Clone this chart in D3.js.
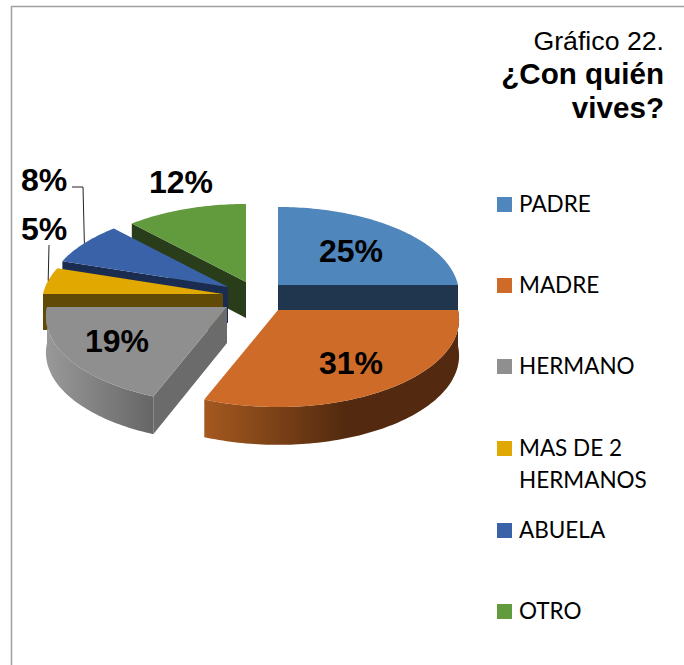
<!DOCTYPE html>
<html>
<head>
<meta charset="utf-8">
<script src="https://cdn.jsdelivr.net/npm/d3@7/dist/d3.min.js"></script>
<style>
html, body { margin: 0; padding: 0; background: #fff; }
svg { display: block; }
</style>
</head>
<body>
<div id="chart"></div>
<script>
// datos del grafico
const categories = ["PADRE", "MADRE", "HERMANO", "MAS DE 2 HERMANOS", "ABUELA", "OTRO"];
const values = [25, 31, 19, 5, 8, 12];
const topColors = ["#4f86bb", "#cf6b28", "#8f8f8f", "#e0a800", "#3a62a8", "#629a3e"];
const cutColors = ["#20364f", "#532a0f", "#6b6b6b", "#604a05", "#1a2c50", "#2a3d1b"];
const rimLight = ["#4f86bb", "#a5591f", "#999999", "#8a6a00", "#26427a", "#3b5a25"];
const rimDark = ["#20364f", "#532a0f", "#666666", "#604a05", "#1a2c50", "#2a3d1b"];
const legendLines = [["PADRE"], ["MADRE"], ["HERMANO"], ["MAS DE 2", "HERMANOS"], ["ABUELA"], ["OTRO"]];
const titleLines = ["Gráfico 22.", "¿Con quién", "vives?"];

const width = 684, height = 665;
const svg = d3.select("#chart").append("svg").attr("width", width).attr("height", height);
const defs = svg.append("defs");

// marco
svg.append("path")
    .attr("d", "M11.5,665V6.5H684")
    .attr("fill", "none")
    .attr("stroke", "#a0a0a0")
    .attr("stroke-width", 1.5);

// ---- geometria de la torta 3D ----
const rx = 180, ry = 86.5, persp = 0.1086, depth = 36;
// vertice de cada porcion ya separada
const apex = [[278, 285], [278, 310], [227, 307], [223, 294], [228, 287], [246, 282]];

const pie = d3.pie().sort(null).startAngle(0).endAngle(2 * Math.PI);
const slices = pie(values);
const color = d3.scaleOrdinal().domain(categories).range(topColors);
const line = d3.line();

function project(i, t, r, z) {
    const X = Math.sin(t) * r, Y = -Math.cos(t) * r;
    const p = 1 / (1 - persp * Y);
    return [
        apex[i][0] + X * rx * p,
        apex[i][1] + Y * ry * p + z * depth * (1 + 0.05 * Y)
    ];
}

function arcPoints(i, a0, a1, z) {
    const n = Math.max(2, Math.ceil((a1 - a0) / 0.02));
    return d3.range(n + 1).map(k => project(i, a0 + (a1 - a0) * k / n, 1, z));
}

// orden de dibujo: de atras hacia adelante
const drawOrder = [5, 4, 3, 0, 2, 1];
const g = svg.append("g");

drawOrder.forEach(i => {
    const s = slices[i];
    const a0 = s.startAngle, a1 = s.endAngle;
    const sg = g.append("g").attr("class", "slice");

    // paredes de corte
    [[a0, -Math.sin(a0)], [a1, Math.sin(a1)]].forEach(([a, facing]) => {
        if (facing > 0.01) {
            sg.append("path")
                .attr("d", line([project(i, a, 0, 0), project(i, a, 1, 0), project(i, a, 1, 1), project(i, a, 0, 1)]) + "Z")
                .attr("fill", cutColors[i]);
        }
    });

    // pared exterior, solo la parte que mira al frente
    const w0 = Math.max(a0, Math.PI / 2), w1 = Math.min(a1, 3 * Math.PI / 2);
    if (w1 > w0) {
        const upper = arcPoints(i, w0, w1, 0), lower = arcPoints(i, w0, w1, 1).reverse();
        const xs = d3.extent(upper, d => d[0]);
        const id = "rim" + i;
        const grad = defs.append("linearGradient").attr("id", id)
            .attr("gradientUnits", "userSpaceOnUse")
            .attr("x1", xs[0]).attr("x2", xs[1]).attr("y1", 0).attr("y2", 0);
        grad.append("stop").attr("offset", 0).attr("stop-color", rimLight[i]);
        grad.append("stop").attr("offset", i === 1 ? 0.55 : 1).attr("stop-color", rimDark[i]);
        grad.append("stop").attr("offset", 1).attr("stop-color", rimDark[i]);
        sg.append("path")
            .attr("d", line(upper.concat(lower)) + "Z")
            .attr("fill", "url(#" + id + ")");
    }

    // cara superior
    sg.append("path")
        .attr("d", line([project(i, a0, 0, 0)].concat(arcPoints(i, a0, a1, 0))) + "Z")
        .attr("fill", color(categories[i]));
});

// ---- lineas guia (8% y 5%) ----
const leaderEnds = { 4: [[72, 187], [83, 187]], 3: [[49, 245]] };
Object.keys(leaderEnds).forEach(k => {
    const i = +k, s = slices[i];
    const rim = project(i, (s.startAngle + s.endAngle) / 2, 1, 0);
    g.append("path")
        .attr("d", line(leaderEnds[k].concat([rim])))
        .attr("fill", "none")
        .attr("stroke", "#222")
        .attr("stroke-width", 1);
});

// ---- etiquetas de porcentaje ----
const labelAt = [[351, 250.5], [351, 362.5], [117, 340.5], [44, 228.5], [44, 179.5], [181, 181.5]];
svg.append("g").selectAll("text")
    .data(slices)
    .join("text")
    .attr("x", (d, i) => labelAt[i][0])
    .attr("y", (d, i) => labelAt[i][1])
    .attr("dy", "0.36em")
    .attr("text-anchor", "middle")
    .attr("font-family", "'Liberation Sans', Arial, sans-serif")
    .attr("font-weight", "bold")
    .attr("font-size", 32)
    .attr("fill", "#000")
    .text(d => d.value + "%");

// ---- titulo ----
svg.append("g").selectAll("text")
    .data(titleLines)
    .join("text")
    .attr("x", 664)
    .attr("y", (d, i) => [50, 84, 118][i])
    .attr("text-anchor", "end")
    .attr("font-family", "'Liberation Sans', Arial, sans-serif")
    .attr("font-weight", (d, i) => i === 0 ? "normal" : "bold")
    .attr("font-size", (d, i) => i === 0 ? 26.7 : 29.6)
    .attr("fill", "#000")
    .text(d => d);

// ---- leyenda ----
const legendY = [204.5, 285.5, 366.5, 448.5, 530.5, 611.5];
const legend = svg.append("g").selectAll("g")
    .data(categories)
    .join("g")
    .attr("transform", (d, i) => `translate(497,${legendY[i]})`);

legend.append("rect")
    .attr("x", 0).attr("y", -7.5)
    .attr("width", 15).attr("height", 15)
    .attr("fill", d => color(d));

legend.each(function(d, i) {
    d3.select(this).selectAll("text")
        .data(legendLines[i])
        .join("text")
        .attr("x", 22)
        .attr("y", (l, j) => 7.5 + j * 32)
        .attr("font-family", "Lato, 'Open Sans', sans-serif")
        .attr("font-size", 22.5)
        .attr("fill", "#000")
        .text(l => l);
});
</script>
</body>
</html>
